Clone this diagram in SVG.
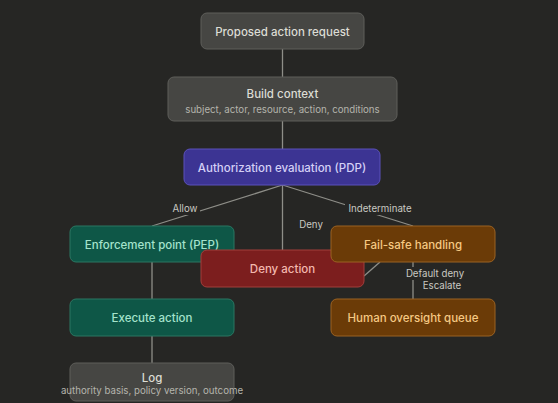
<svg xmlns="http://www.w3.org/2000/svg" width="558" height="403" viewBox="0 0 558 403">
<style>
.t{font-family:Inter,"Noto Sans","Liberation Sans",sans-serif;font-size:11.5px;font-weight:500;text-anchor:middle}
.s{font-family:Inter,"Noto Sans","Liberation Sans",sans-serif;font-size:9.7px;text-anchor:middle}
.l{font-family:Inter,"Noto Sans","Liberation Sans",sans-serif;font-size:9.7px;fill:#c9c9c2;text-anchor:middle}
.e{stroke:#8e8e88;stroke-width:1.3;fill:none}
.grey rect{fill:#464643;stroke:#5e5e5a}
.grey .t{fill:#dcdcd4}
.grey .s{fill:#b4b4ac}
.pdp rect{fill:#3c3493;stroke:#5b51ba}
.pdp .t{fill:#d4d0f6}
.green rect{fill:#0e5747;stroke:#2a7762}
.green .t{fill:#a4e3cc}
.red rect{fill:#7c1e1e;stroke:#a23e3b}
.red .t{fill:#f3b8ae}
.amber rect{fill:#6b3b07;stroke:#9b6222}
.amber .t{fill:#f6c983}
</style>
<rect width="558" height="403" fill="#262624"/>
<g id="connectors">
<line class="e" x1="282.5" y1="49" x2="282.5" y2="77"/>
<line class="e" x1="282.5" y1="121" x2="282.5" y2="149"/>
<line class="e" x1="282.5" y1="185" x2="152" y2="226"/>
<line class="e" x1="282.5" y1="185" x2="282.5" y2="250"/>
<line class="e" x1="282.5" y1="185" x2="413" y2="226"/>
<line class="e" x1="152" y1="262" x2="152" y2="299"/>
<line class="e" x1="152" y1="336" x2="152" y2="363"/>
<line class="e" x1="413" y1="262" x2="413" y2="299"/>
<line class="e" x1="380" y1="262" x2="364" y2="276"/>
<rect x="170" y="201" width="30" height="14" fill="#262624"/>
<text class="l" x="185" y="212">Allow</text>
<text class="l" x="311" y="228">Deny</text>
<rect x="345" y="201" width="70" height="14" fill="#262624"/>
<text class="l" x="380" y="212">Indeterminate</text>
<rect x="404" y="267" width="62" height="13" fill="#262624"/>
<text class="l" x="435" y="277">Default deny</text>
<text class="l" x="442" y="289">Escalate</text>
</g>
<g id="n-request" class="grey">
<rect x="201" y="13" width="163" height="36" rx="6"/>
<text class="t" x="282.5" y="35.5">Proposed action request</text>
</g>
<g id="n-context" class="grey">
<rect x="168" y="77" width="229" height="44" rx="6"/>
<text class="t" x="282.5" y="98">Build context</text>
<text class="s" x="282.5" y="113">subject, actor, resource, action, conditions</text>
</g>
<g id="n-pdp" class="pdp">
<rect x="184" y="149" width="196" height="36" rx="6"/>
<text class="t" x="282" y="171.5">Authorization evaluation (PDP)</text>
</g>
<g id="n-pep" class="green">
<rect x="70" y="226" width="164" height="36" rx="6"/>
<text class="t" x="152" y="248.5">Enforcement point (PEP)</text>
</g>
<g id="n-deny" class="red">
<rect x="201" y="250" width="163" height="37" rx="6"/>
<text class="t" x="282.5" y="273">Deny action</text>
</g>
<g id="n-failsafe" class="amber">
<rect x="331" y="226" width="164" height="36" rx="6"/>
<text class="t" x="413" y="248.5">Fail-safe handling</text>
</g>
<g id="n-human" class="amber">
<rect x="331" y="299" width="164" height="37" rx="6"/>
<text class="t" x="413" y="322">Human oversight queue</text>
</g>
<g id="n-execute" class="green">
<rect x="70" y="299" width="164" height="37" rx="6"/>
<text class="t" x="152" y="322">Execute action</text>
</g>
<g id="n-log" class="grey">
<rect x="70" y="363" width="164" height="38" rx="6"/>
<text class="t" x="152" y="382">Log</text>
<text class="s" x="152" y="394">authority basis, policy version, outcome</text>
</g>
</svg>
